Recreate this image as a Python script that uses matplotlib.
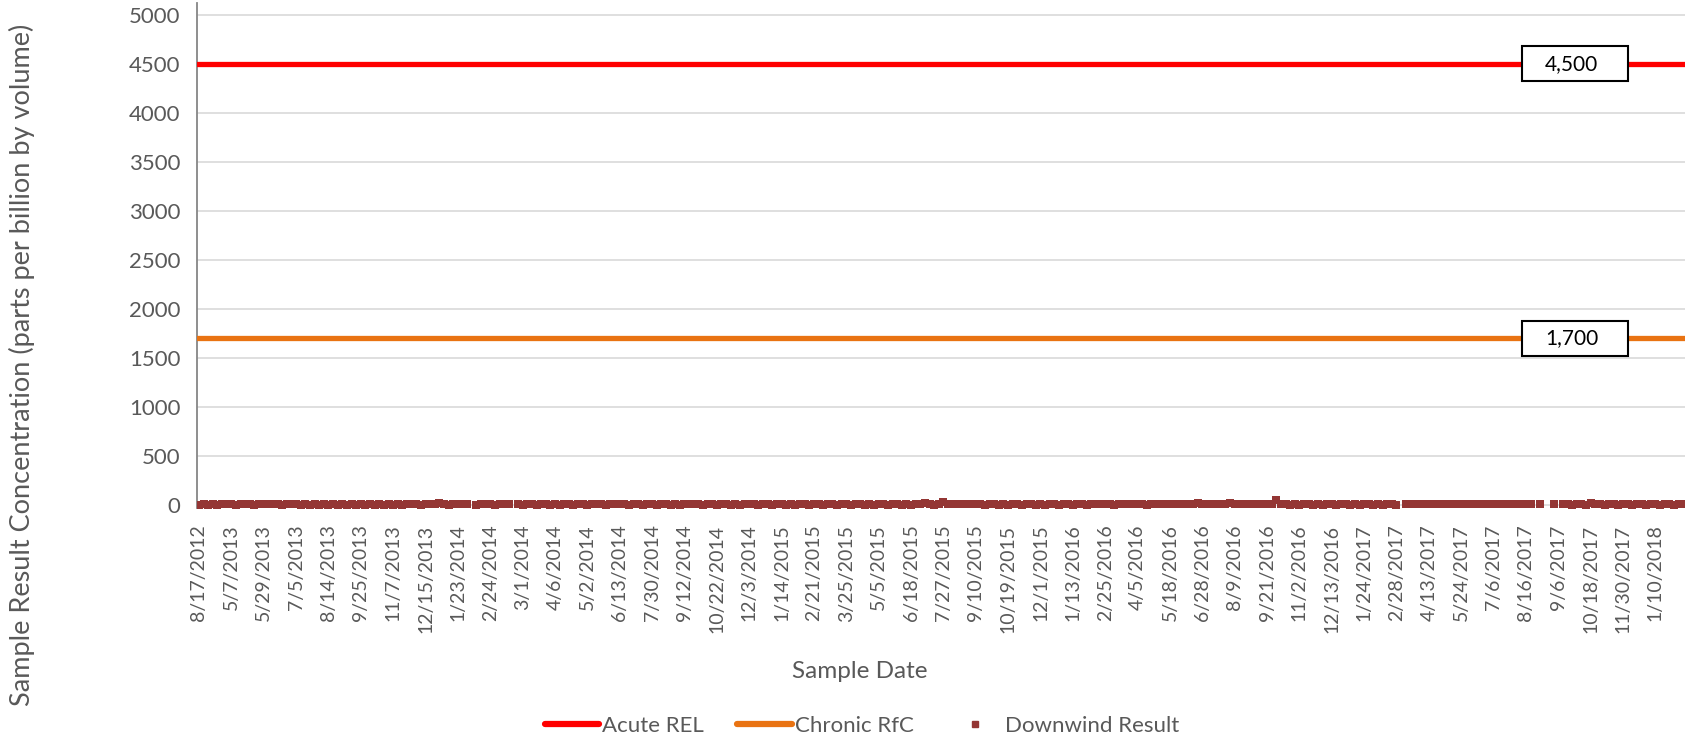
import matplotlib.pyplot as plt
import matplotlib.transforms as mtransforms
from matplotlib.patches import Rectangle
from matplotlib.lines import Line2D

plt.rcParams['font.family'] = ['Lato', 'DejaVu Sans']

# Reference levels (ppbv)
acute_rel = 4500
chronic_rfc = 1700

# Tick labels shown on the category axis (one every 7 samples)
date_labels = [
    '8/17/2012', '5/7/2013', '5/29/2013', '7/5/2013', '8/14/2013', '9/25/2013',
    '11/7/2013', '12/15/2013', '1/23/2014', '2/24/2014', '3/1/2014', '4/6/2014',
    '5/2/2014', '6/13/2014', '7/30/2014', '9/12/2014', '10/22/2014', '12/3/2014',
    '1/14/2015', '2/21/2015', '3/25/2015', '5/5/2015', '6/18/2015', '7/27/2015',
    '9/10/2015', '10/19/2015', '12/1/2015', '1/13/2016', '2/25/2016', '4/5/2016',
    '5/18/2016', '6/28/2016', '8/9/2016', '9/21/2016', '11/2/2016', '12/13/2016',
    '1/24/2017', '2/28/2017', '4/13/2017', '5/24/2017', '7/6/2017', '8/16/2017',
    '9/6/2017', '10/18/2017', '11/30/2017', '1/10/2018',
]
label_step = 7

# Downwind sample results (ppbv), None = no sample
downwind = [
    4, 8, 3, 9, 4, 10, 5,
    9, 4, 10, 6, 9, 3, 8,
    5, 10, 6, 9, 4, 8, 5,
    9, 3, 7, 4, 6, 3, 5,
    4, 6, 3, 5, 4, 6, 3,
    5, 4, 5, 3, 6, 4, 5,
    3, 5, 4, 6, 5, 7, 4,
    6, 5, 8, 25, 6, 4, 5,
    7, 5, 6, None, 4, 5, 6,
    5, 4, 6, 5, 7, None, 5,
    4, 6, 5, 4, 6, 5, 4,
    5, 4, 6, 5, 4, 5, 6,
    4, 5, 6, 5, 4, 5, 6,
    12, 5, 4, 6, 5, 4, 5,
    6, 4, 5, 6, 4, 5, 4,
    5, 6, 12, 5, 4, 6, 5,
    4, 5, 6, 4, 5, 4, 6,
    5, 12, 4, 6, 5, 4, 5,
    6, 4, 5, 4, 6, 5, 4,
    12, 5, 4, 6, 5, 4, 5,
    6, 4, 5, 6, 4, 5, 4,
    5, 6, 4, 5, 6, 4, 5,
    4, 5, 6, 15, 5, 4, 6,
    30, 8, 6, 5, 7, 6, 5,
    6, 5, 4, 6, 5, 4, 5,
    4, 5, 6, 4, 5, 6, 4,
    5, 4, 6, 5, 4, 5, 6,
    4, 5, 6, 4, 5, 6, 5,
    6, 5, 4, 6, 5, 7, 6,
    5, 6, 4, 7, 5, 6, 8,
    6, 8, 5, 7, 9, 6, 20,
    8, 6, 9, 7, 10, 8, 20,
    7, 9, 8, 10, 7, 9, 8,
    10, 9, 50, 6, 5, 4, 5,
    4, 5, 6, 4, 5, 4, 6,
    5, 4, 5, 6, 4, 5, 4,
    5, 6, 4, 5, 4, 6, 5,
    4, None, 5, 6, 5, 7, 6,
    8, 6, 9, 7, 10, 8, 9,
    10, 8, 9, 7, 8, 6, 7,
    5, 6, 8, 5, 7, 9, 6,
    5, 7, None, 6, None, None, 7,
    None, 5, 6, 4, 5, 6, 4,
    25, 6, 5, 4, 6, 5, 4,
    5, 6, 4, 5, 6, 4, 5,
    6, 4, 5, 6, 4, 5, 6,
]

x = list(range(len(downwind)))
tick_pos = [i * label_step for i in range(len(date_labels))]

fig = plt.figure(figsize=(16.85, 7.42), dpi=100)
ax = fig.add_axes([197 / 1685, 1 - 507.9 / 742, 1 - 197 / 1685, (507.9 - 3.2) / 742])

red = '#ff0000'
orange = '#e97312'
maroon = '#943634'
grey_txt = '#595959'

ax.axhline(acute_rel, color=red, lw=3.8, zorder=3)
ax.axhline(chronic_rfc, color=orange, lw=3.8, zorder=3)
ax.plot(x, downwind, linestyle='none', marker='s', markersize=5.6,
        color=maroon, markeredgewidth=0, zorder=4)

ax.set_xlim(-0.43, 321.4)
ax.set_ylim(-30, 5120)
ax.set_yticks(range(0, 5001, 500))
ax.grid(axis='y', color='#d9d9d9', lw=1.2)
ax.set_axisbelow(True)

ax.set_xticks(tick_pos)
ax.set_xticklabels(date_labels, rotation=90, fontsize=14, color=grey_txt)
ax.tick_params(axis='x', length=0, pad=12)
ax.tick_params(axis='y', length=0, pad=12, labelsize=16, labelcolor=grey_txt)

for side in ['top', 'right', 'bottom']:
    ax.spines[side].set_visible(False)
ax.spines['left'].set_color('#868686')
ax.spines['left'].set_linewidth(1.3)

# value boxes on the reference lines
trans = mtransforms.blended_transform_factory(ax.transAxes, ax.transData)
box_x = (1522 - 197) / 1488
box_w = 106 / 1488
box_h = 35 / 0.098
for val in [acute_rel, chronic_rfc]:
    ax.add_patch(Rectangle((box_x, val - box_h / 2), box_w, box_h, transform=trans,
                           facecolor='white', edgecolor='black', lw=1.5, zorder=5))
    ax.text((1545 - 197) / 1488, val, f'{val:,}', transform=trans, fontsize=15,
            va='center', ha='left', color='black', zorder=6)

fig.text(22 / 1685, 1 - 365 / 742, 'Sample Result Concentration (parts per billion by volume)',
         rotation=90, ha='center', va='center', fontsize=19.5, color=grey_txt)
fig.text(860 / 1685, 1 - 672 / 742, 'Sample Date', ha='center', va='center',
         fontsize=17.5, color=grey_txt)

handles = [
    Line2D([], [], color=red, lw=4.5, solid_capstyle='round'),
    Line2D([], [], color=orange, lw=4.5, solid_capstyle='round'),
    Line2D([], [], color=maroon, marker='s', markersize=5, linestyle='none'),
]
fig.legend(handles, ['Acute REL', 'Chronic RfC', 'Downwind Result'], ncol=3,
           loc='center', bbox_to_anchor=(862 / 1685, 1 - 726 / 742), frameon=False,
           fontsize=16, labelcolor=grey_txt, handlelength=2.45, handletextpad=0.15,
           columnspacing=1.5)

fig.savefig('out.png', dpi=100)
